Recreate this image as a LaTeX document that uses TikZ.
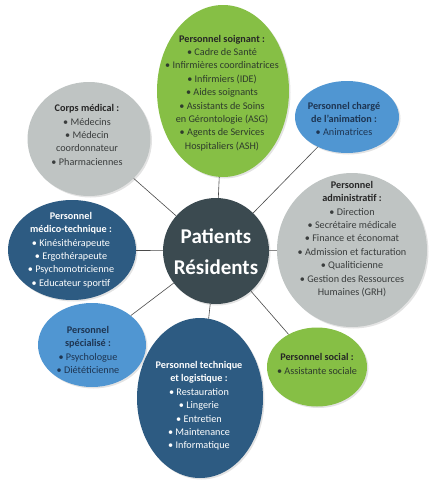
\documentclass[tikz,border=0pt]{standalone}
\usepackage{fontspec}
\setmainfont{Carlito}
\usetikzlibrary{shapes.geometric,shadows}
\definecolor{vert}{HTML}{86BF45}
\definecolor{gris}{HTML}{BFC4C3}
\definecolor{bleuclair}{HTML}{5096D2}
\definecolor{bleufonce}{HTML}{2D5B82}
\definecolor{ardoise}{HTML}{3B4A50}
\definecolor{txtvert}{HTML}{2E3B2C}
\definecolor{txtgris}{HTML}{3A3D3D}
\definecolor{txtbleu}{HTML}{1E3552}
\definecolor{trait}{HTML}{4A4A4A}
\begin{document}
\begin{tikzpicture}[x=1pt,y=-1pt,
  bubble/.style={ellipse, draw=none, inner sep=0pt,
    drop shadow={opacity=0.22, shadow xshift=1.5pt, shadow yshift=-1.5pt}},
  txt/.style={align=center, font=\fontsize{10.2}{13.4}\selectfont},
  link/.style={draw=trait, line width=0.6pt}]
\useasboundingbox (0,0) rectangle (431,480);

\node[bubble, fill=vert, minimum width=132pt, minimum height=172pt] (soin) at (223,91) {};
\node[bubble, fill=gris, minimum width=123pt, minimum height=114pt] (corps) at (89,139) {};
\node[bubble, fill=bleuclair, minimum width=104pt, minimum height=72pt] (anim) at (347,117) {};
\node[bubble, fill=gris, minimum width=150pt, minimum height=154pt] (admin) at (352,250) {};
\node[bubble, fill=bleufonce, minimum width=128pt, minimum height=100pt] (medico) at (72,250) {};
\node[bubble, fill=bleuclair, minimum width=108pt, minimum height=84pt] (spec) at (92,345) {};
\node[bubble, fill=bleufonce, minimum width=126pt, minimum height=160pt] (tech) at (200,398) {};
\node[bubble, fill=vert, minimum width=100pt, minimum height=79pt] (social) at (317,367) {};
\node[bubble, circle, fill=ardoise, minimum size=106pt] (centre) at (216,251) {};

\draw[link] (centre) -- (soin);
\draw[link] (centre) -- (corps);
\draw[link] (centre) -- (anim);
\draw[link] (centre) -- (admin);
\draw[link] (centre) -- (medico);
\draw[link] (centre) -- (spec);
\draw[link] (centre) -- (tech);
\draw[link] (centre) -- (social);

\node[txt, text=txtvert] (tsoin) at (222,93) {\textbf{\color{black!85}Personnel soignant :}\\• Cadre de Santé\\• Infirmières coordinatrices\\• Infirmiers (IDE)\\• Aides soignants\\• Assistants de Soins\\en Gérontologie (ASG)\\• Agents de Services\\Hospitaliers (ASH)};
\node[txt, text=txtgris] (tcorps) at (87,135) {\textbf{\color{black!85}Corps médical :}\\• Médecins\\• Médecin\\coordonnateur\\• Pharmaciennes};
\node[txt, text=txtbleu] (tanim) at (344,119) {\textbf{Personnel chargé}\\\textbf{de l'animation :}\\• Animatrices};
\node[txt, text=txtgris] (tadmin) at (352,239) {\textbf{\color{black!85}Personnel}\\\textbf{\color{black!85}administratif :}\\• Direction\\• Secrétaire médicale\\• Finance et économat\\• Admission et facturation\\• Qualiticienne\\• Gestion des Ressources\\Humaines (GRH)};
\node[txt, text=white] (tmedico) at (71,250) {\textbf{Personnel}\\\textbf{médico-technique :}\\• Kinésithérapeute\\• Ergothérapeute\\• Psychomotricienne\\• Educateur sportif};
\node[txt, text=txtbleu] (tspec) at (88,350) {\textbf{Personnel}\\\textbf{spécialisé :}\\• Psychologue\\• Diététicienne};
\node[txt, text=white] (ttech) at (199,406) {\textbf{Personnel technique}\\\textbf{et logistique :}\\• Restauration\\• Lingerie\\• Entretien\\• Maintenance\\• Informatique};
\node[txt, text=txtvert] (tsocial) at (317,364) {\textbf{\color{black!85}Personnel social :}\\• Assistante sociale};
\node[align=center, text=white, font=\fontsize{21}{31}\selectfont\bfseries] (tcentre) at (216,252) {Patients\\Résidents};
\end{tikzpicture}
\end{document}
